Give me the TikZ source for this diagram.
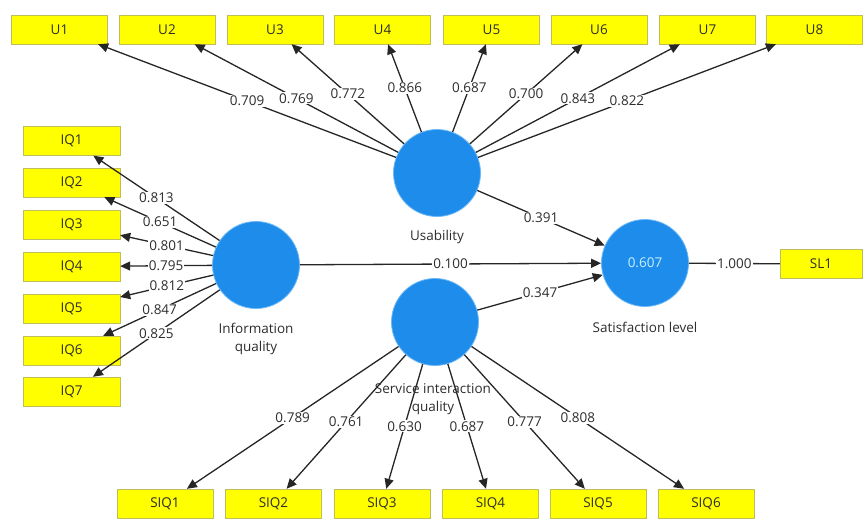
\documentclass[tikz,border=0pt]{standalone}
\usepackage{fontspec}
\setmainfont{Open Sans}
\usetikzlibrary{arrows.meta}
\definecolor{lvblue}{RGB}{30,140,235}
\definecolor{lvedge}{RGB}{110,185,245}
\definecolor{mvyellow}{RGB}{255,255,0}
\definecolor{mvborder}{RGB}{190,190,90}
\definecolor{txt}{RGB}{45,45,45}
\definecolor{rsq}{RGB}{200,240,255}
\begin{document}
\begin{tikzpicture}[x=1pt,y=-1pt,
  font=\fontsize{13.5}{18}\selectfont,
  ind/.style={draw=mvborder, fill=mvyellow, minimum width=96pt, minimum height=29pt, inner sep=0pt, text=txt},
  lv/.style={circle, fill=lvblue, draw=lvedge, line width=0.8pt, minimum size=87pt, inner sep=0pt},
  ld/.style={draw=black!85, line width=1.3pt, -{Triangle[length=10pt,width=9pt]}},
  pl/.style={draw=black!85, line width=1.3pt},
  lbl/.style={fill=white, inner sep=1pt, text=txt},
  lvcaption/.style={text=txt, align=center},
  ]
\useasboundingbox (0,0) rectangle (864,519);

% latent variables
\node[lv] (US) at (437,173) {};
\node[lv] (IQ) at (256,265) {};
\node[lv] (SIQ) at (435,322) {};
\node[lv, text=rsq] (SL) at (645,263) {0.607};

% captions
\node[lvcaption] (cUS) at (437,237) {Usability};
\node[lvcaption] (cIQ) at (256,339) {Information\\quality};
\node[lvcaption] (cSIQ) at (433,399) {Service interaction\\quality};
\node[lvcaption] (cSL) at (645,327) {Satisfaction level};

% indicators
\foreach \i/\x in {1/59.5,2/167,3/275,4/382.5,5/491.5,6/599,7/707.5,8/814.5}
  \node[ind] (U\i) at (\x,29.5) {U\i};
\foreach \i/\y in {1/141,2/182.5,3/224.5,4/266.5,5/308.5,6/350.5,7/391.5}
  \node[ind, minimum width=97pt] (IQ\i) at (71.5,\y) {IQ\i};
\foreach \i/\x in {1/165,2/273.5,3/382,4/490.5,5/598,6/706}
  \node[ind] (SIQ\i) at (\x,503.5) {SIQ\i};
\node[ind, minimum width=82pt] (SL1) at (821,264) {SL1};

% outer loadings
\foreach \i in {1,...,8}
  \draw[ld] (US) -- coordinate[midway] (mU\i) (U\i);
\foreach \i in {1,...,7}
  \draw[ld] (IQ) -- coordinate[midway] (mIQ\i) (IQ\i);
\foreach \i in {1,...,6}
  \draw[ld] (SIQ) -- coordinate[midway] (mSIQ\i) (SIQ\i);
\draw[pl] (SL) -- coordinate[midway] (mSL) (SL1);

% structural paths
\draw[ld] (US) -- coordinate[midway] (pUS) (SL);
\draw[ld] (IQ) -- coordinate[midway] (pIQ) (SL);
\draw[ld] (SIQ) -- coordinate[midway] (pSIQ) (SL);

% labels
\foreach \i/\v in {1/0.709,2/0.769,3/0.772,4/0.866,5/0.687,6/0.700,7/0.843,8/0.822}
  \node[lbl] at (mU\i) {\v};
\foreach \i/\v in {1/0.813,2/0.651,3/0.801,4/0.795,5/0.812,6/0.847,7/0.825}
  \node[lbl] at (mIQ\i) {\v};
\foreach \i/\v in {1/0.789,2/0.761,3/0.630,4/0.687,5/0.777,6/0.808}
  \node[lbl] at (mSIQ\i) {\v};
\node[lbl] at (mSL) {1.000};
\node[lbl] at (pUS) {0.391};
\node[lbl] at (pIQ) {0.100};
\node[lbl] at (pSIQ) {0.347};
\end{tikzpicture}
\end{document}
